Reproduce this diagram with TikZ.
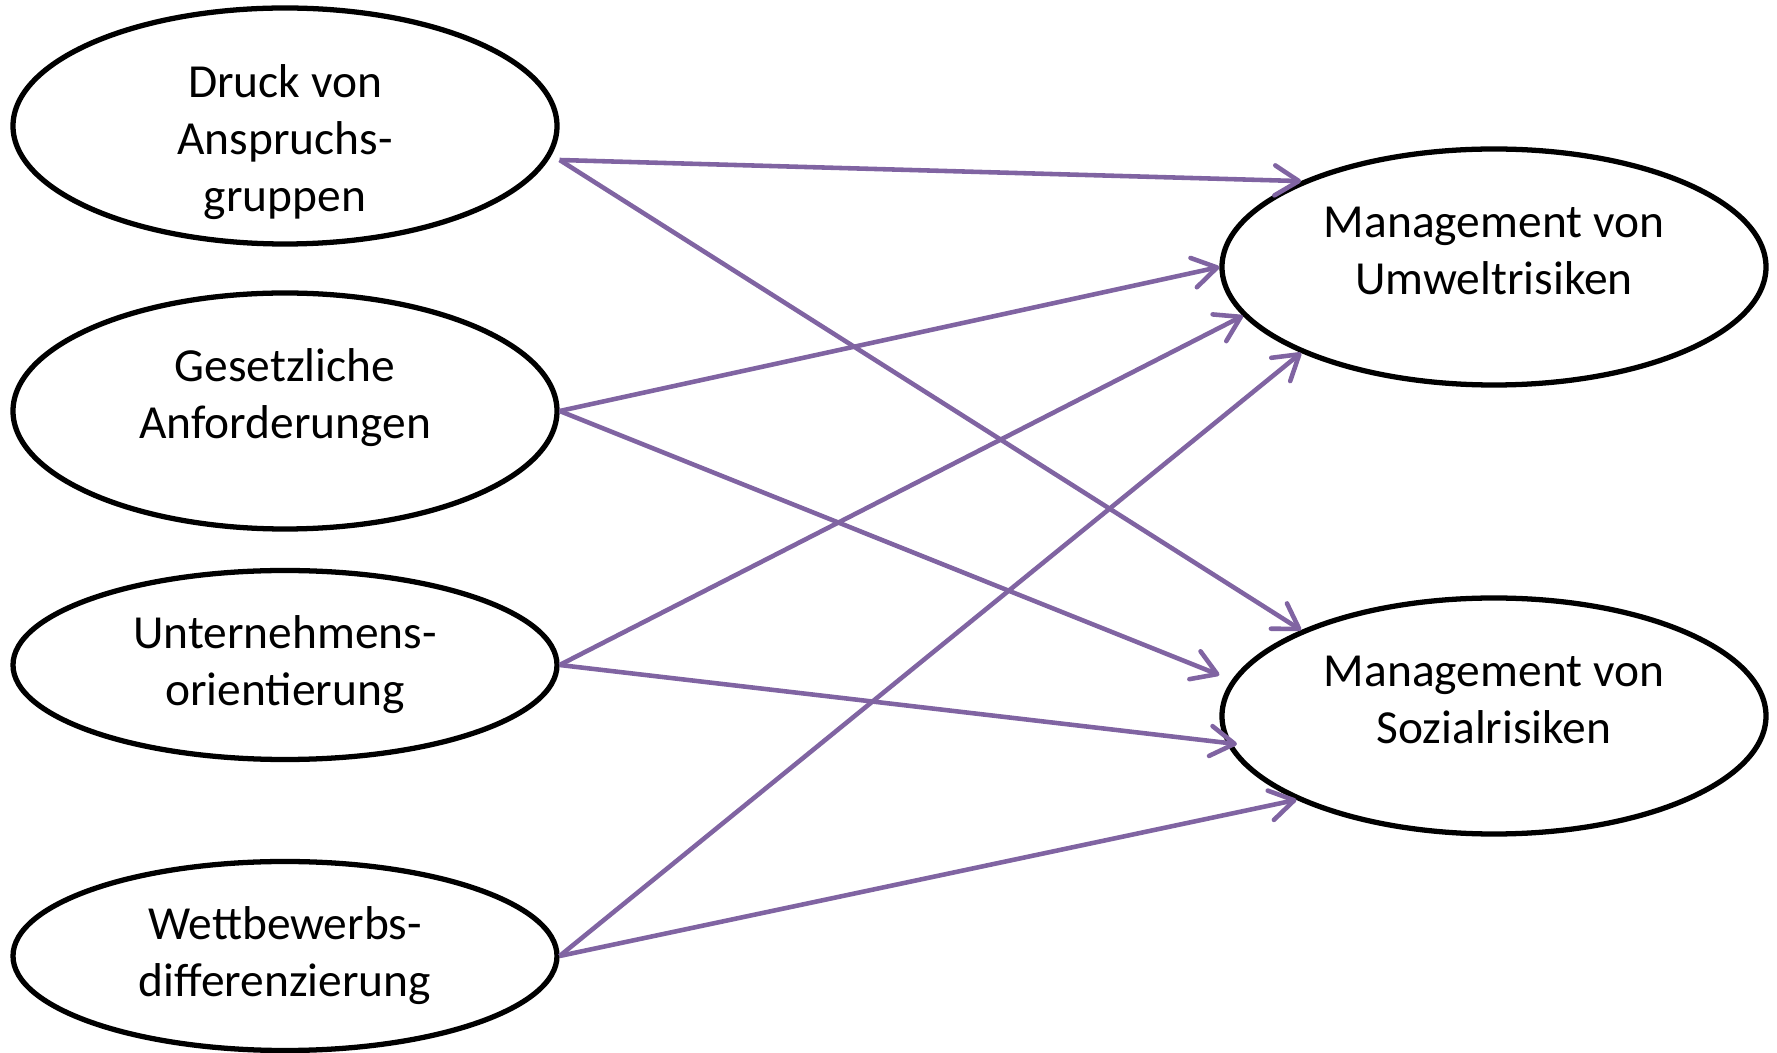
\documentclass[tikz,border=0pt]{standalone}
\usepackage{fontspec}
\setmainfont{Carlito}
\usetikzlibrary{arrows.meta,shapes.geometric}
\definecolor{lila}{RGB}{128,100,162}
\begin{document}
\begin{tikzpicture}[>={Straight Barb[length=2.4mm,width=3mm,round]},
	fak/.style={ellipse,draw,line width=1.5pt,fill=white,inner sep=0pt,%
		minimum width=5.44cm,align=center,font=\fontsize{13.5}{16.2}\selectfont},
	pfeil/.style={->,lila,line width=1.3pt}]
	\useasboundingbox (0,0) rectangle (17.77,10.53);
	% Einflussfaktoren
	\node[fak,minimum height=2.36cm,text height=1.71cm,text depth=0pt,inner ysep=-2mm] (druck) at (2.85,9.27) {Druck von\\Anspruchs-\\gruppen};
	\node[fak,minimum height=2.36cm,text depth=0.35cm] (gesetz) at (2.85,6.42) {Gesetzliche\\Anforderungen};
	\node[fak,minimum height=1.89cm] (orient) at (2.85,3.88) {Unternehmens-\\orientierung};
	\node[fak,minimum height=1.89cm] (wettb) at (2.85,0.97) {Wettbewerbs-\\differenzierung};
	% Zielgroessen
	\node[fak,minimum height=2.36cm,text depth=0.32cm] (umwelt) at (14.94,7.86) {Management von\\Umweltrisiken};
	\node[fak,minimum height=2.36cm,text depth=0.32cm] (sozial) at (14.94,3.37) {Management von\\Sozialrisiken};
	% Pfeile
	\draw[pfeil] ([yshift=-3.4mm]druck.east) -- (umwelt.156.6);
	\draw[pfeil] ([yshift=-3.4mm]druck.east) -- (sozial.156);
	\draw[pfeil] (gesetz.east) -- (umwelt.west);
	\draw[pfeil] (gesetz.east) -- ([yshift=4.1mm]sozial.west);
	\draw[pfeil] (orient.east) -- (umwelt.191.7);
	\draw[pfeil] (orient.east) -- ([xshift=1mm]sozial.186);
	\draw[pfeil] (wettb.east) -- (umwelt.204);
	\draw[pfeil] (wettb.east) -- (sozial.203);
\end{tikzpicture}
\end{document}
